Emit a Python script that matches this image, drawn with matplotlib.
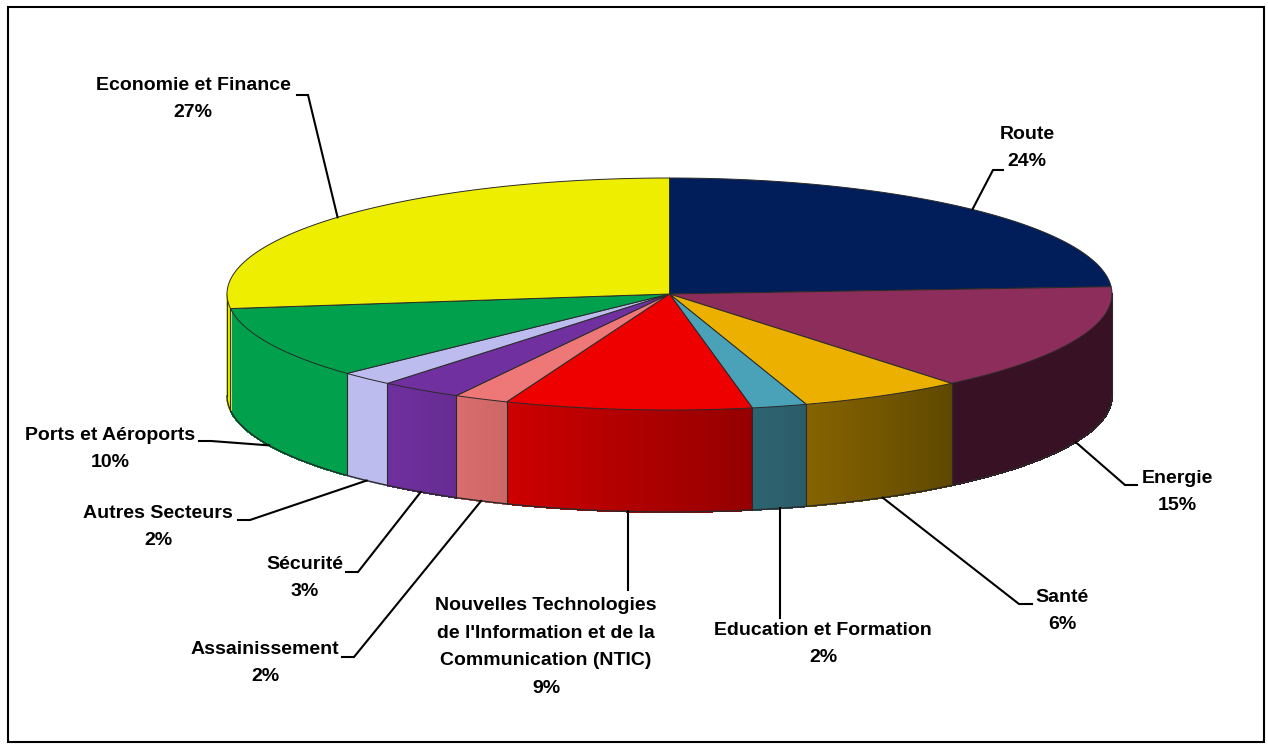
import numpy as np
import matplotlib
matplotlib.use("Agg")
import matplotlib.pyplot as plt
from matplotlib.patches import Polygon, Rectangle
from matplotlib.collections import PolyCollection
from matplotlib.colors import to_rgb

# ---- data ----
categories = ["Route", "Energie", "Santé", "Education et Formation",
              "Nouvelles Technologies\nde l'Information et de la\nCommunication (NTIC)",
              "Assainissement", "Sécurité", "Autres Secteurs",
              "Ports et Aéroports", "Economie et Finance"]
values = [24, 15, 6, 2, 9, 2, 3, 2, 10, 27]
top_colors = ["#021E5A", "#8C2D5B", "#EBB000", "#4AA2B8", "#EE0000",
              "#EE7777", "#7030A0", "#BCBCEE", "#00A04C", "#EEEE00"]

# label layout (text centre, elbow point, line end near text)
label_pos = [(1027, 148), (1177, 492), (1062, 611), (823, 644), (546, 647),
             (265, 663), (305, 578), (158, 527), (110, 449), (193, 99)]
elbows = [(993, 170), (1125, 485), (1019, 604), (None, 618), (None, 590),
          (354, 657), (358, 572), (250, 520), (211, 441), (308, 95)]
line_ends = [(1003, 170), (1137, 485), (1032, 604), (None, 618), (None, 590),
             (342, 657), (346, 572), (238, 520), (199, 441), (297, 95)]

W, H = 1268, 744
fig = plt.figure(figsize=(W / 100, H / 100), dpi=100)
ax = fig.add_axes([0, 0, 1, 1])
ax.set_xlim(0, W)
ax.set_ylim(H, 0)
ax.axis("off")

cx, cy, rx, ry, depth = 669.5, 294.0, 442.5, 116.0, 102.0


def pt(theta_deg, dy=0.0):
    t = np.radians(theta_deg)
    return cx + rx * np.sin(t), cy - ry * np.cos(t) + dy


def shade(theta):
    return float(np.clip(0.4 + (theta - 140) / 80 * 0.6, 0.4, 1.0))


total = float(sum(values))
bounds = np.concatenate([[0], np.cumsum(values)]) / total * 360.0
EDGE = "#2a2a2a"

# sides (front half only)
for i, col in enumerate(top_colors):
    a0, a1 = max(bounds[i], 90), min(bounds[i + 1], 270)
    if a1 <= a0:
        continue
    n = max(int((a1 - a0) * 2), 2)
    ths = np.linspace(a0, a1, n + 1)
    polys, cols = [], []
    base = np.array(to_rgb(col))
    for k in range(n):
        x0, y0 = pt(ths[k])
        x1, y1 = pt(ths[k + 1])
        polys.append([(x0, y0), (x1, y1), (x1, y1 + depth), (x0, y0 + depth)])
        cols.append(tuple(base * shade(0.5 * (ths[k] + ths[k + 1]))))
    ax.add_collection(PolyCollection(polys, facecolors=cols, edgecolors=cols,
                                     linewidths=0.8, antialiaseds=False,
                                     zorder=2))

# side boundary lines
for b in bounds:
    if 90 <= b <= 270:
        x, y = pt(b)
        ax.plot([x, x], [y, y + depth], color=EDGE, lw=0.8, zorder=3)
for b in (90, 270):
    x, y = pt(b)
    ax.plot([x, x], [y, y + depth], color=EDGE, lw=0.8, zorder=3)
ths = np.linspace(90, 270, 200)
bx, by = pt(ths, depth)
ax.plot(bx, by, color=EDGE, lw=1.0, zorder=3)

# top face wedges
for i, col in enumerate(top_colors):
    ths = np.linspace(bounds[i], bounds[i + 1], max(int(values[i] * 4), 4))
    xs, ys = pt(ths)
    verts = [(cx, cy)] + list(zip(xs, ys))
    ax.add_patch(Polygon(verts, closed=True, facecolor=col, edgecolor=EDGE,
                         lw=0.7, zorder=4))

# labels and leader lines
for i, name in enumerate(categories):
    mid = 0.5 * (bounds[i] + bounds[i + 1])
    if 90 < mid < 270:
        ax_, ay_ = pt(mid, depth)
    else:
        ax_, ay_ = pt(mid)
    ex, ey = elbows[i]
    lx, ly = line_ends[i]
    if ex is None:
        ex, lx = ax_, ax_
    ax.plot([ax_, ex, lx], [ay_, ey, ly], color="black", lw=1.5, zorder=5,
            solid_joinstyle="miter")
    tx, ty = label_pos[i]
    ax.text(tx, ty, f"{name}\n{values[i]}%", ha="center", va="center",
            fontsize=14, fontweight="bold", family="Liberation Sans",
            linespacing=1.8, color="black", zorder=6)

ax.add_patch(Rectangle((8, 7), 1256, 735, fill=False, edgecolor="black",
                       lw=1.5, zorder=7))

fig.savefig("out.png", dpi=100)
